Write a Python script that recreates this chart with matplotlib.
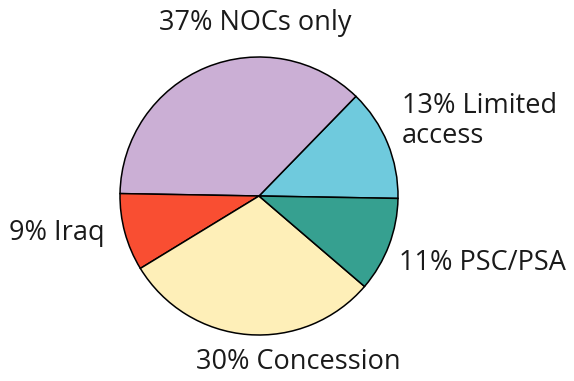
import matplotlib
matplotlib.use("Agg")
import matplotlib.pyplot as plt

# Share of world oil reserves by access type
labels = ["13% Limited\naccess", "37% NOCs only", "9% Iraq", "30% Concession", "11% PSC/PSA"]
shares = [13, 37, 9, 30, 11]
colors = ["#6FCADD", "#CBAFD5", "#F94E32", "#FEEFB8", "#36A090"]

W, H = 574, 381
fig = plt.figure(figsize=(W / 100, H / 100), dpi=100)
ax = fig.add_axes([0, 0, 1, 1])
ax.set_xlim(0, W)
ax.set_ylim(0, H)
ax.set_aspect("equal")
ax.axis("off")

cx, cy, r = 259, H - 196, 139
ax.pie(shares, colors=colors, startangle=-1, counterclock=True,
       center=(cx, cy), radius=r,
       wedgeprops=dict(edgecolor="black", linewidth=1.1))
ax.set_xlim(0, W)
ax.set_ylim(0, H)

font = dict(family="Open Sans", fontsize=19.5, color="#1a1a1a")
# label anchors in pixel space (x, y from top)
ax.text(255, H - 23, labels[1], ha="center", va="center", **font)
ax.text(402, H - 121, labels[0], ha="left", va="center", linespacing=1.1, **font)
ax.text(9, H - 233, labels[2], ha="left", va="center", **font)
ax.text(399, H - 263, labels[4], ha="left", va="center", **font)
ax.text(298, H - 362, labels[3], ha="center", va="center", **font)

fig.savefig("out.png", dpi=100, facecolor="white")
